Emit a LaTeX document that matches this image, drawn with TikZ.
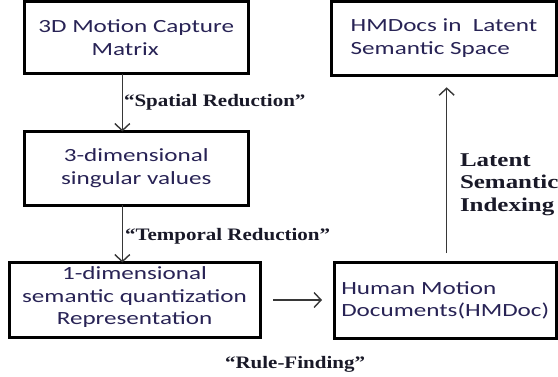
\documentclass[tikz,border=0pt]{standalone}
\usepackage{fontspec}
\newfontfamily\boxfont[FakeStretch=1.35]{Carlito}
\newfontfamily\lblfont[FakeStretch=1.2]{Liberation Serif}
\newfontfamily\bigfont[FakeStretch=1.28]{Liberation Serif}
\usetikzlibrary{arrows.meta}
\definecolor{txtc}{RGB}{40,35,85}
\definecolor{lblc}{RGB}{25,25,40}
\definecolor{arrc}{RGB}{55,55,55}
\begin{document}
\begin{tikzpicture}[x=1pt,y=-1pt,
  boxn/.style={draw=black, line width=3pt, inner sep=0pt, outer sep=0pt,
    font=\boxfont\fontsize{18.6}{22.5}\selectfont, text=txtc, align=center},
  lbl/.style={inner sep=0pt, outer sep=0pt, anchor=base west,
    font=\lblfont\bfseries\fontsize{17.5}{21}\selectfont, text=lblc},
  arr/.style={draw=arrc, line width=1.4pt,
    -{Straight Barb[length=7pt,width=15pt,line width=1.4pt]}}]
\useasboundingbox (0,0) rectangle (558,376);
\fill[white] (0,0) rectangle (558,376);
\node[boxn, minimum width=224.5pt, minimum height=72.2pt] (cap) at (136.25,37.4)
  {3D Motion Capture\\\hspace*{-22pt}Matrix};
\node[boxn, minimum width=224.5pt, minimum height=73.5pt] (sing) at (136.25,168.25)
  {3-dimensional\\singular values};
\node[boxn, minimum width=251pt, minimum height=75pt, text depth=8pt] (quant) at (134.5,300)
  {1-dimensional\\semantic quantization\\Representation};
\node[boxn, align=left, minimum width=222.5pt, minimum height=75.5pt] (hmdoc) at (445.25,300.25)
  {Human Motion\\Documents(HMDoc)};
\node[boxn, align=left, minimum width=225pt, minimum height=74pt] (lsi) at (444,38.3)
  {HMDocs in\ \ Latent\\Semantic Space};
\coordinate (ax) at (122.3,0);
\coordinate (ux) at (446.7,0);
\draw[arr] (cap.south -| ax) -- (sing.north -| ax);
\draw[arr] (sing.south -| ax) -- (quant.north -| ax);
\draw[arr, shorten <=13pt, shorten >=12pt] (quant.east) -- (quant.east -| hmdoc.west);
\draw[arr, shorten <=9.5pt, shorten >=12pt] (hmdoc.north -| ux) -- (lsi.south -| ux);
\node[lbl] (spat) at (124,106) {“Spatial Reduction”};
\node[lbl] (temp) at (125,240) {“Temporal Reduction”};
\node[lbl] (rule) at (225,368) {“Rule-Finding”};
\node[lbl, font=\bigfont\bfseries\fontsize{19.5}{22.7}\selectfont, align=left] (lsilbl) at (460,211.4)
  {Latent\\Semantic\\Indexing};
\end{tikzpicture}
\end{document}
